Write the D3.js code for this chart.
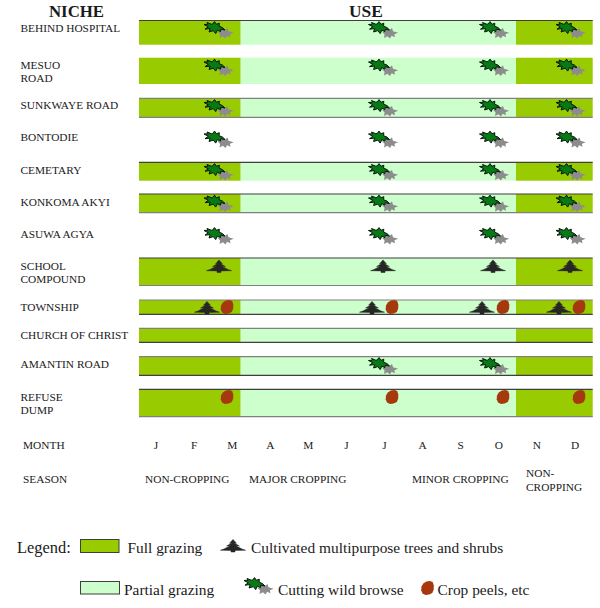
<!DOCTYPE html>
<html><head><meta charset="utf-8">
<script src="https://cdn.jsdelivr.net/npm/d3@7"></script>
<style>html,body{margin:0;background:#fff}svg{display:block}text{font-family:"Liberation Serif",serif;fill:#1a1a1a}</style>
</head><body><svg id="c" width="600" height="608"></svg>
<script>
const months=["J","F","M","A","M","J","J","A","S","O","N","D"];
const niches=[["BEHIND HOSPITAL"],["MESUO","ROAD"],["SUNKWAYE ROAD"],["BONTODIE"],["CEMETARY"],["KONKOMA AKYI"],["ASUWA AGYA"],["SCHOOL","COMPOUND"],["TOWNSHIP"],["CHURCH OF CHRIST"],["AMANTIN ROAD"],["REFUSE","DUMP"]];
const hasBand=[1,1,1,0,1,1,0,1,1,1,1,1];
const browseMonths=[[2,6,9,11],[2,6,9,11],[2,6,9,11],[2,6,9,11],[2,6,9,11],[2,6,9,11],[2,6,9,11],[],[],[],[6,9],[]];
const treeMonths=[[],[],[],[],[],[],[],[2,6,9,11],[2,6,9,11],[],[],[]];
const peelMonths=[[],[],[],[],[],[],[],[],[2,6,9,11],[],[],[2,6,9,11]];
const seasons=[["NON-CROPPING"],["MAJOR CROPPING"],["MINOR CROPPING"],["NON-","CROPPING"]];
const grazing=[["full",0,1],["partial",1,2],["full",2,3]];
const colors={full:"#99cc00",partial:"#ccffcc",tree:"#262626",leaf:"#067a14",shadow:"#8c8c8c",peel:"#a5380c",line:"#3f3f3f",lineSoft:"#808080"};

// layout
const bandEdges=[139,240.7,516,592.7];
const rowTop=[20.5,57.7,98.3,0,162.3,194,0,258,300,328.3,356.7,389.3];
const rowBot=[44.7,84,117.3,0,180.7,212.7,0,285.5,314.3,342.3,375.3,416.7];
const rowText=[31.7,69,109,141,174,206,238,270,311,339,368,401];
const iconY=[29,66.5,107,138.5,171,202.5,235,266.5,308,335,365,397];
const lineTop=[2,0,1,0,2,2,0,2,1,1,1,2], lineBot=[0,0,1,0,0,1,0,1,2,2,2,1];
const iconCols={browse:{2:214.5,6:379,9:490,11:566.5},tree:{2:219,6:383,9:493,11:570},treeT:{2:207,6:372,9:482,11:559},peel:{2:227,6:392,9:503,11:579}};

const svg=d3.select("#c");
const x=d3.scaleLinear().domain([0,11]).range([156,575]);
const fs=11.35;
function label(lines,px,py,size,anchor,gap){
  const t=svg.append("text").attr("x",px).attr("y",py).attr("font-size",size).attr("text-anchor",anchor||"start");
  lines.forEach((l,i)=>t.append("tspan").attr("x",px).attr("dy",i?(gap||13.2):0).text(l));
  return t;
}
const browsePts="M-10.5,-3.5 L-6.5,-3.8 L-7.5,-5.5 L-3.2,-3.8 L-1.8,-4 L0,-6.4 L2,-3.7 L4.8,-4.8 L4.6,-1.8 L8,-0.4 L10.5,2 L6.2,1.2 L6,3.6 L2.8,2.2 L1.2,5.6 L-1.2,2.6 L-5.4,4 L-4.4,0.6 L-9.5,1.2 L-6.2,-1.2 Z";
const shadowPts="M-8,-1.2 L-4.6,-1.6 L-4,-5 L-0.6,-3 L2,-5 L3,-1.8 L8.2,-0.2 L4.4,1.2 L5,4.2 L1.6,2.8 L0,5.6 L-2.6,3.2 L-6,5 L-5.4,1.4 Z";
const treePts="M0,-6.6 L3.4,-2.8 L1.2,-3 L6.4,0 L2.8,-0.2 L9,3 L12.5,4.2 L2,4.4 L2,6 L-2,6 L-2,4.4 L-12.5,4.2 L-9,3 L-2.8,-0.2 L-6.4,0 L-1.2,-3 L-3.4,-2.8 Z";
const peelPts="M2.4,-7 L5.2,-6 L6.3,-2.6 L6.2,1.6 L4.8,5 L1.6,6.6 L-2,7 L-5,5.4 L-6.3,2.2 L-6,-1.4 L-4.2,-4.6 L-1.2,-6.4 Z";
function browse(px,py){
  svg.append("path").attr("d",shadowPts).attr("transform",`translate(${px+11},${py+5})`).attr("fill",colors.shadow);
  svg.append("path").attr("d",browsePts).attr("transform",`translate(${px},${py})`).attr("fill",colors.leaf).attr("stroke","#06160a").attr("stroke-width",1);
}
function tree(px,py){svg.append("path").attr("d",treePts).attr("transform",`translate(${px},${py})`).attr("fill",colors.tree).attr("stroke",colors.tree).attr("stroke-width",.5);}
function peel(px,py){svg.append("path").attr("d",peelPts).attr("transform",`translate(${px},${py})`).attr("fill",colors.peel);}
const lineColor=v=>v===2?colors.line:colors.lineSoft;

niches.forEach((n,i)=>{
  if(hasBand[i]){
    grazing.forEach(g=>svg.append("rect").attr("x",bandEdges[g[1]]).attr("width",bandEdges[g[2]]-bandEdges[g[1]]).attr("y",rowTop[i]).attr("height",rowBot[i]-rowTop[i]).attr("fill",colors[g[0]]));
    if(lineTop[i])svg.append("line").attr("x1",139).attr("x2",592.7).attr("y1",rowTop[i]).attr("y2",rowTop[i]).attr("stroke",lineColor(lineTop[i])).attr("stroke-width",1.2);
    if(lineBot[i])svg.append("line").attr("x1",139).attr("x2",592.7).attr("y1",rowBot[i]).attr("y2",rowBot[i]).attr("stroke",lineColor(lineBot[i])).attr("stroke-width",1.2);
  }
  label(n,20.5,rowText[i]-(n.length>1?0.5:0),fs);
  browseMonths[i].forEach(m=>browse(iconCols.browse[m],iconY[i]-1));
  const both=peelMonths[i].length&&treeMonths[i].length;
  treeMonths[i].forEach(m=>tree((both?iconCols.treeT:iconCols.tree)[m],iconY[i]));
  peelMonths[i].forEach(m=>peel(iconCols.peel[m],iconY[i]-(both?1:0)));
});

label(["NICHE"],49,17,16.8).attr("font-weight","bold");
label(["USE"],349,17,17.4).attr("font-weight","bold");
label(["MONTH"],23,449,fs);
months.forEach((m,i)=>label([m],x(i),449,fs,"middle"));
label(["SEASON"],23,483,fs);
label(seasons[0],145,483,fs);
label(seasons[1],249,483,fs);
label(seasons[2],412,483,fs);
label(seasons[3],526,477,fs,"start",14);
// legend
label(["Legend:"],17,553,16.4);
svg.append("rect").attr("x",80.5).attr("y",539.5).attr("width",38.5).attr("height",13).attr("fill",colors.full).attr("stroke",colors.line);
label(["Full grazing"],127.5,553,15.4);
tree(233,546);
label(["Cultivated multipurpose trees and shrubs"],251,553,15.4);
svg.append("rect").attr("x",80.5).attr("y",581.5).attr("width",39).attr("height",12.5).attr("fill",colors.partial).attr("stroke",colors.line);
label(["Partial grazing"],124,595,15.4);
browse(254.5,584);
label(["Cutting wild browse"],278,595,15.4);
peel(427.5,588);
label(["Crop peels, etc"],437.5,595,15.4);
</script></body></html>
